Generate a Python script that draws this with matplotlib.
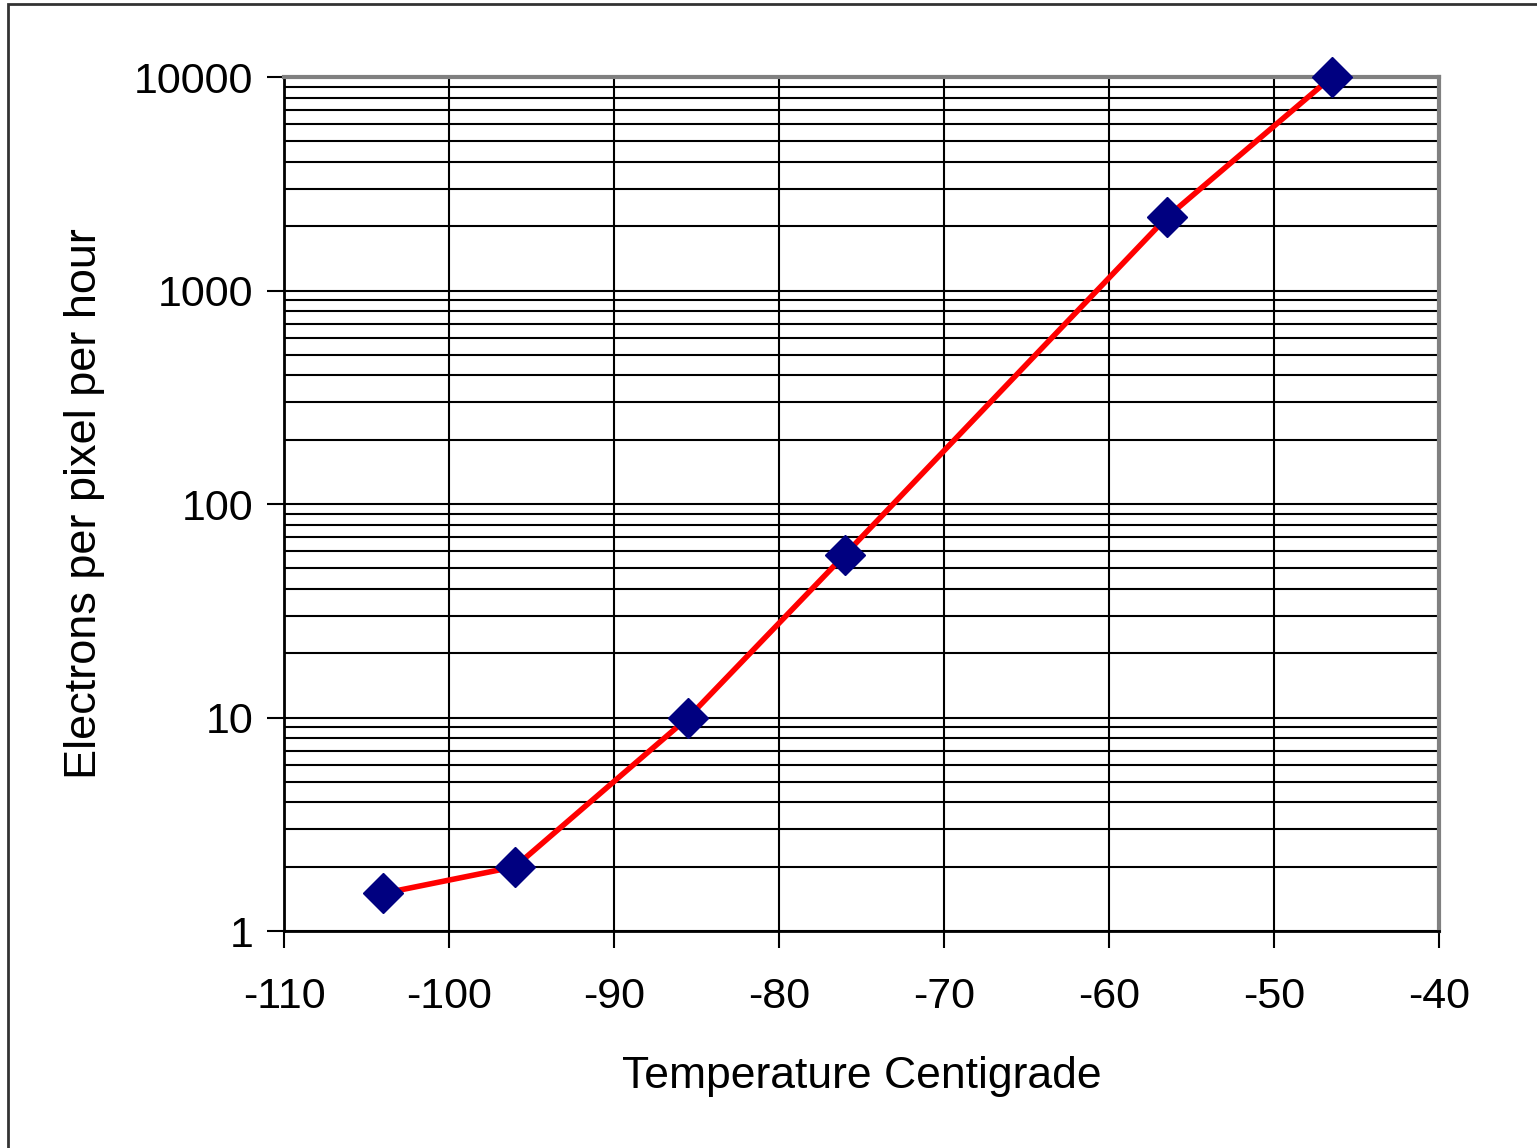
import numpy as np
import matplotlib.pyplot as plt
from matplotlib.patches import Rectangle
from matplotlib.ticker import LogLocator, FixedLocator, NullFormatter

# temperature (C) and dark current (electrons per pixel per hour)
temp = [-104, -96, -85.5, -76, -56.5, -46.5]
electrons = [1.5, 2.0, 10.0, 58, 2200, 10000]
x_ticks = [-110, -100, -90, -80, -70, -60, -50, -40]
y_ticks = [1, 10, 100, 1000, 10000]

plt.rcParams['font.family'] = ['Liberation Sans', 'DejaVu Sans']

fig = plt.figure(figsize=(15.37, 11.48), dpi=100)
ax = fig.add_axes([0.1848, 0.1890, 0.7514, 0.7439])

# outer frame of the chart
fig.patches.append(Rectangle((8/1537, -0.05), 1.2, 1 - 4/1148 + 0.05,
                             transform=fig.transFigure, fill=False,
                             edgecolor='#333333', linewidth=2))

ax.plot(temp, electrons, color='red', linewidth=4, zorder=3)
ax.plot(temp, electrons, linestyle='none', marker='D', markersize=20,
        color='#000080', zorder=4, clip_on=False)

ax.set_yscale('log')
ax.set_xlim(-110, -40)
ax.set_ylim(1, 10000)
ax.xaxis.set_major_locator(FixedLocator(x_ticks))
ax.yaxis.set_major_locator(FixedLocator(y_ticks))
ax.yaxis.set_minor_locator(LogLocator(base=10, subs=np.arange(2, 10)))
ax.yaxis.set_minor_formatter(NullFormatter())
ax.set_xticklabels([str(t) for t in x_ticks])
ax.set_yticklabels([str(t) for t in y_ticks])

ax.grid(True, which='major', axis='both', color='black', linewidth=1.5)
ax.grid(True, which='minor', axis='y', color='black', linewidth=1.5)
ax.set_axisbelow(True)

ax.tick_params(which='major', direction='out', length=12, width=1.5,
               labelsize=31)
ax.tick_params(axis='x', pad=21)
ax.tick_params(axis='y', pad=10)
ax.tick_params(which='minor', length=0)

for s in ['left', 'bottom']:
    ax.spines[s].set_color('black')
    ax.spines[s].set_linewidth(2)
for s in ['top', 'right']:
    ax.spines[s].set_color('#808080')
    ax.spines[s].set_linewidth(3)

ax.set_xlabel('Temperature Centigrade', fontsize=32, labelpad=28)
ax.set_ylabel('Electrons per pixel per hour', fontsize=32.5, labelpad=21)

fig.savefig('out.png', dpi=100)
